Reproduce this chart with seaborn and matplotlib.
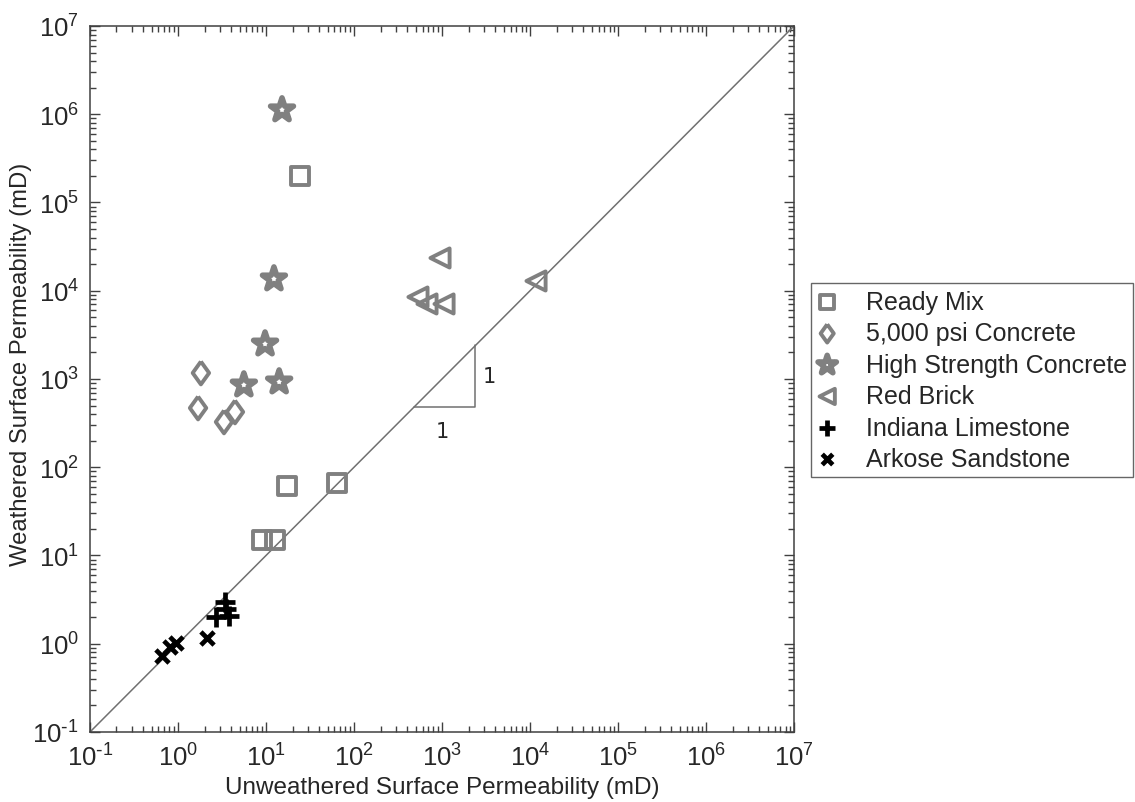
import numpy as np
import pandas as pd
import matplotlib
matplotlib.use("Agg")
import matplotlib.pyplot as plt
import seaborn as sns
from matplotlib.ticker import FixedLocator, NullFormatter, FuncFormatter

sns.set_theme(style="ticks")
plt.rcParams['font.family'] = ['Liberation Sans', 'DejaVu Sans']
plt.rcParams['axes.unicode_minus'] = False

# ---- data ----
ready_mix_x = [24.3, 17.3, 64.0, 9.0, 12.7]
ready_mix_y = [2.0e5, 61.0, 66.0, 15.0, 15.0]

psi5000_x = [1.82, 1.69, 3.33, 4.44]
psi5000_y = [1170.0, 469.0, 326.0, 423.0]

high_str_x = [15.2, 12.3, 9.75, 14.1, 5.6]
high_str_y = [1.12e6, 1.36e4, 2490.0, 925.0, 855.0]

red_brick_x = [949.0, 533.0, 675.0, 1054.0, 1.17e4]
red_brick_y = [2.35e4, 8490.0, 7080.0, 7080.0, 1.29e4]

limestone_x = [3.4, 2.7, 3.8, 3.5]
limestone_y = [3.0, 2.0, 2.05, 2.5]

sandstone_x = [0.66, 0.81, 0.95, 2.14]
sandstone_y = [0.73, 0.92, 1.02, 1.16]

series_names = ["Ready Mix", "5,000 psi Concrete", "High Strength Concrete",
                "Red Brick", "Indiana Limestone", "Arkose Sandstone"]

decade_exponents = [-1, 0, 1, 2, 3, 4, 5, 6, 7]
axis_min, axis_max = 1e-1, 1e7
slope_x = [480.0, 2400.0, 2400.0]
slope_y = [480.0, 480.0, 2400.0]

frames = []
for name, xs, ys in zip(series_names,
                        [ready_mix_x, psi5000_x, high_str_x, red_brick_x, limestone_x, sandstone_x],
                        [ready_mix_y, psi5000_y, high_str_y, red_brick_y, limestone_y, sandstone_y]):
    frames.append(pd.DataFrame({"x": xs, "y": ys, "series": name}))
df = pd.concat(frames, ignore_index=True)

gray = "#808080"
diamond = [(0, 1), (0.72, 0), (0, -1), (-0.72, 0), (0, 1)]
styles = {
    "Ready Mix": dict(marker="s", s=170, facecolor="none", edgecolor=gray, linewidth=2.8),
    "5,000 psi Concrete": dict(marker=diamond, s=270, facecolor="none", edgecolor=gray, linewidth=2.8),
    "High Strength Concrete": dict(marker="*", s=300, facecolor="none", edgecolor=gray, linewidth=4.0),
    "Red Brick": dict(marker="<", s=190, facecolor="none", edgecolor=gray, linewidth=2.8),
    "Indiana Limestone": dict(marker="+", s=190, color="black", linewidth=3.4),
    "Arkose Sandstone": dict(marker="x", s=90, color="black", linewidth=3.4),
}

fig = plt.figure(figsize=(11.35, 8.03), dpi=100)
ax = fig.add_axes([0.0793, 0.0872, 0.6203, 0.8792])

ax.plot([axis_min, axis_max], [axis_min, axis_max], color="#707070", linewidth=1.1, zorder=1)

for name in series_names:
    sub = df[df["series"] == name]
    sns.scatterplot(data=sub, x="x", y="y", ax=ax, label=name, zorder=3, **styles[name])

# slope triangle
ax.plot(slope_x, slope_y, color="#707070", linewidth=1.1, zorder=2)
ax.text(2400 * 1.22, np.sqrt(480 * 2400), "1", fontsize=15, family="DejaVu Sans",
        va="center", ha="left")
ax.text(np.sqrt(480 * 2400) * 0.93, 480 / 1.45, "1", fontsize=15, family="DejaVu Sans",
        va="top", ha="center")

ax.set_xscale("log")
ax.set_yscale("log")
ax.set_xlim(axis_min, axis_max)
ax.set_ylim(axis_min, axis_max)


def dec_fmt(v, pos):
    e = int(round(np.log10(v)))
    if e < 0:
        return r"$\mathdefault{10^{\text{-}%d}}$" % (-e)
    return r"$\mathdefault{10^{%d}}$" % e


major_ticks = [10.0 ** e for e in decade_exponents]
minor_ticks = [m * 10.0 ** e for e in decade_exponents[:-1] for m in range(2, 10)]
for axis in (ax.xaxis, ax.yaxis):
    axis.set_major_locator(FixedLocator(major_ticks))
    axis.set_minor_locator(FixedLocator(minor_ticks))
    axis.set_minor_formatter(NullFormatter())
    axis.set_major_formatter(FuncFormatter(dec_fmt))

ax.tick_params(which="both", direction="in", top=True, right=True, color="#404040", width=1)
ax.tick_params(which="major", length=7, labelsize=18.5, pad=8)
ax.tick_params(which="minor", length=4)
for sp in ax.spines.values():
    sp.set_color("#404040")
    sp.set_linewidth(1.1)
    sp.set_visible(True)

ax.set_xlabel("Unweathered Surface Permeability (mD)", fontsize=17.5, labelpad=4)
ax.set_ylabel("Weathered Surface Permeability (mD)", fontsize=17.2)
ax.yaxis.set_label_coords(-0.082, 0.522)

leg = ax.legend(loc="upper left", bbox_to_anchor=(0.7145, 0.646), bbox_transform=fig.transFigure,
                fontsize=18, frameon=True, fancybox=False, edgecolor="#404040",
                handletextpad=1.15, borderpad=0.25, labelspacing=0.3, handlelength=0.8,
                markerscale=0.8, borderaxespad=0)
leg.get_frame().set_linewidth(1.0)

fig.savefig("out.png", dpi=100)
